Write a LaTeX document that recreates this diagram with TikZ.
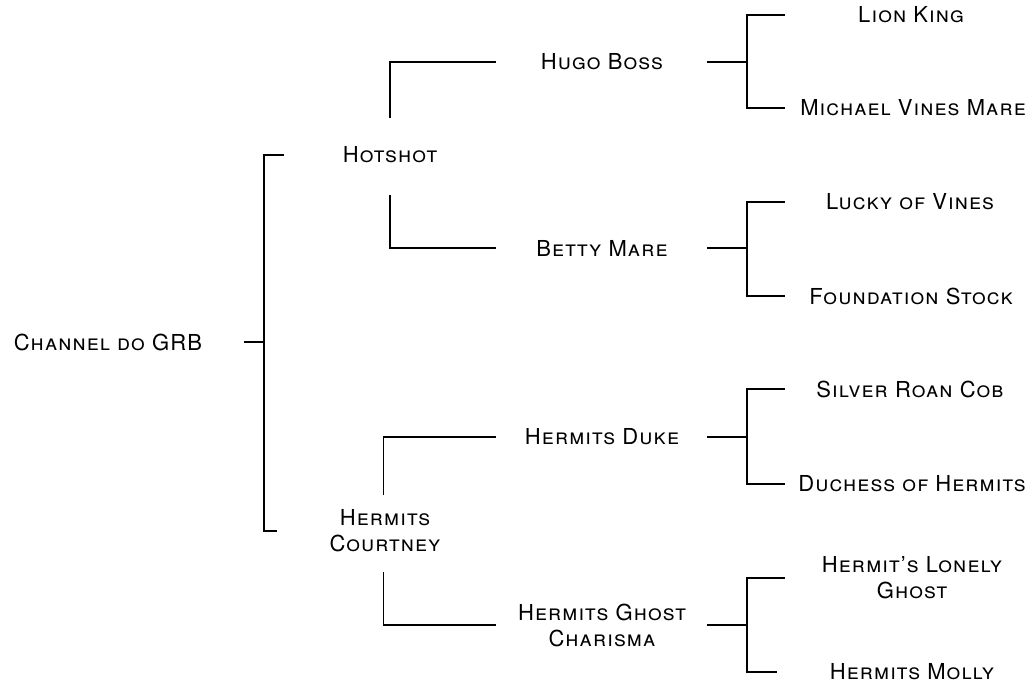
\documentclass[tikz,border=0pt]{standalone}
\usepackage{fontspec}
\setmainfont{TeX Gyre Heros}[LetterSpace=5]
\usetikzlibrary{positioning}

\begin{document}
\begin{tikzpicture}
[x=0.75pt, y=-0.75pt,
horse/.style ={inner sep=0pt, font=\fontsize{16.5}{19.5}\selectfont\scshape,
align=center},
link/.style ={line width=1.2pt, draw=black}]

\useasboundingbox (0,0) rectangle (1031,684);

% generation 0
\node (channel) [horse] at (108,342) {Channel do GRB};
% generation 1
\node (hotshot) [horse] at (390,155) {Hotshot};
\node (courtney) [horse] at (385,531) {Hermits\\Courtney};
% generation 2
\node (hugo) [horse] at (602,62) {Hugo Boss};
\node (betty) [horse] at (602,248) {Betty Mare};
\node (duke) [horse] at (602,437) {Hermits Duke};
\node (charisma) [horse] at (602,625) {Hermits Ghost\\Charisma};
% generation 3
\node (lion) [horse] at (911,15) {Lion King};
\node (michael) [horse] at (913,108) {Michael Vines Mare};
\node (lucky) [horse] at (910,202) {Lucky of Vines};
\node (foundation) [horse] at (911,296) {Foundation Stock};
\node (silver) [horse] at (910,389) {Silver Roan Cob};
\node (duchess) [horse] at (912,484) {Duchess of Hermits};
\node (lonely) [horse] at (912,578) {Hermit's Lonely\\Ghost};
\node (molly) [horse] at (912,672) {Hermits Molly};

% bracket junctions
\coordinate (channelj) at (264,342);
\coordinate (hugoj) at (747,62);
\coordinate (bettyj) at (747,248);
\coordinate (dukej) at (747,437);
\coordinate (charismaj) at (747,625);

% root bracket
\draw[link] ([xshift=102pt]channel.center) -- (channelj);
\draw[link] (channelj |- hotshot) ++(20,0) -| (channelj |- courtney) -- ++(13,0);

% second generation
\draw[link] ([yshift=28pt]hotshot.center) |- ([xshift=-79.5pt]hugo.center);
\draw[link] ([yshift=-30pt]hotshot.center) |- ([xshift=-79.5pt]betty.center);
\draw[link] ([xshift=-1pt,yshift=27pt]courtney.center) |- ([xshift=-79.5pt]duke.center);
\draw[link] ([xshift=-1pt,yshift=-31pt]courtney.center) |- ([xshift=-79.5pt]charisma.center);

% third generation
\draw[link] ([xshift=79pt]hugo.center) -- (hugoj);
\draw[link] (hugoj |- lion) ++(38,0) -| (hugoj |- michael) -- ++(38,0);
\draw[link] ([xshift=79pt]betty.center) -- (bettyj);
\draw[link] (bettyj |- lucky) ++(38,0) -| (bettyj |- foundation) -- ++(38,0);
\draw[link] ([xshift=79pt]duke.center) -- (dukej);
\draw[link] (dukej |- silver) ++(38,0) -| (dukej |- duchess) -- ++(38,0);
\draw[link] ([xshift=79pt]charisma.center) -- (charismaj);
\draw[link] (charismaj |- lonely) ++(38,0) -| (charismaj |- molly) -- ++(30,0);
\end{tikzpicture}
\end{document}
